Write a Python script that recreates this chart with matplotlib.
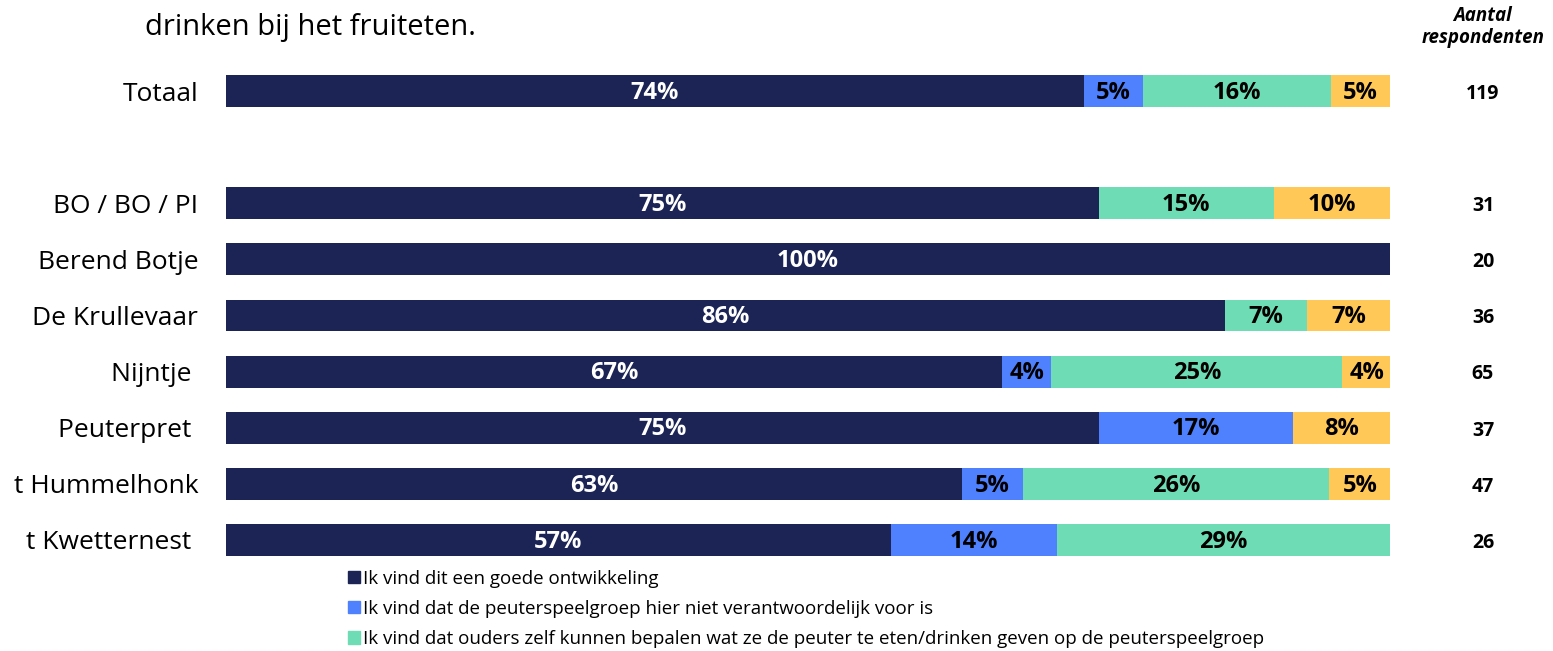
import numpy as np
import matplotlib.pyplot as plt
from matplotlib.patches import Patch
from matplotlib.transforms import blended_transform_factory

plt.rcParams['font.family'] = ['Open Sans', 'DejaVu Sans']

# data
categories = ['Totaal', 'BO / BO / PI', 'Berend Botje', 'De Krullevaar', 'Nijntje ',
              'Peuterpret ', 't Hummelhonk', 't Kwetternest ']
positions = [0, 2, 3, 4, 5, 6, 7, 8]
goed = [73.7, 75.0, 100.0, 85.8, 66.7, 75.0, 63.2, 57.1]
niet_verantw = [5.1, 0, 0, 0, 4.2, 16.7, 5.3, 14.3]
ouders = [16.1, 15.0, 0, 7.1, 25.0, 0, 26.3, 28.6]
overig = [5.1, 10.0, 0, 7.1, 4.2, 8.3, 5.3, 0]
respondenten = [119, 31, 20, 36, 65, 37, 47, 26]
series_labels = ['Ik vind dit een goede ontwikkeling',
                 'Ik vind dat de peuterspeelgroep hier niet verantwoordelijk voor is',
                 'Ik vind dat ouders zelf kunnen bepalen wat ze de peuter te eten/drinken geven op de peuterspeelgroep']
colors = ['#1b2455', '#4f81ff', '#6edcb4', '#ffc857']
text_colors = ['white', 'black', 'black', 'black']

fig = plt.figure(figsize=(15.53, 6.51), dpi=100)
ax = fig.add_axes([226 / 1553, 1 - 568 / 651, (1390 - 226) / 1553, 505 / 651])

left = np.zeros(len(categories))
for vals, col, tc in zip([goed, niet_verantw, ouders, overig], colors, text_colors):
    vals = np.array(vals)
    ax.barh(positions, vals, left=left, height=0.57, color=col)
    for p, v, l in zip(positions, vals, left):
        if v > 0:
            ax.text(l + v / 2, p + 0.03, f'{round(v)}%', ha='center', va='center',
                    color=tc, fontsize=17, fontweight='bold')
    left += vals

ax.set_xlim(0, 100)
ax.set_ylim(8.5, -0.5)
ax.set_yticks(positions)
ax.set_yticklabels(categories, fontsize=19)
ax.tick_params(axis='y', length=0, pad=20)
ax.set_xticks([])
for s in ax.spines.values():
    s.set_visible(False)

# respondent column
tr = blended_transform_factory(fig.transFigure, ax.transData)
for p, n in zip(positions, respondenten):
    ax.text(1483 / 1553, p + 0.05, str(n), transform=tr,
            ha='center', va='center', fontsize=14, fontweight='bold')

fig.text(1483 / 1553, 1 - 27 / 651, 'Aantal\nrespondenten', ha='center', va='center',
         fontsize=13.5, fontweight='bold', style='italic', linespacing=1.1)
fig.text(145 / 1553, 1 - 28 / 651, 'drinken bij het fruiteten.', ha='left', va='center', fontsize=21)

handles = [Patch(color=c) for c in colors[:3]]
fig.legend(handles, series_labels, loc='upper left', bbox_to_anchor=(340 / 1553, 1 - 562 / 651),
           frameon=False, fontsize=13.5, handlelength=0.65, handleheight=0.65, handletextpad=0.2,
           labelspacing=0.65, borderaxespad=0)

fig.savefig('out.png', dpi=100)
